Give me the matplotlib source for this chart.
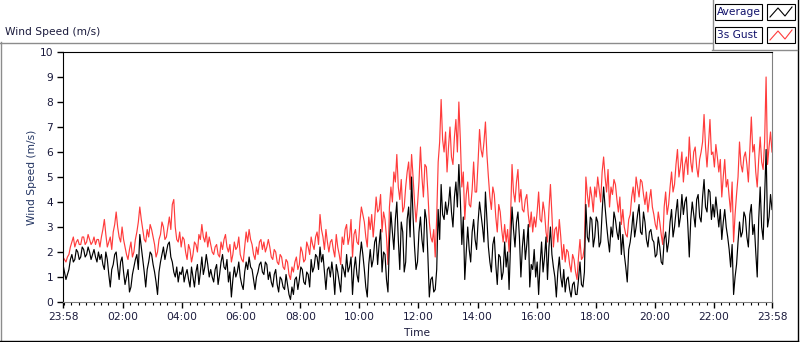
import numpy as np
import matplotlib.pyplot as plt
from matplotlib.lines import Line2D
from matplotlib.patches import Rectangle

# wind speed (m/s), one row per hour, 6 min steps starting 23:58 (last value at 23:58 next day)
avg = [1.5, 0.9, 1.3, 1.9, 1.7, 2.0, 1.8, 2.1, 1.9, 2.0,
       1.9, 1.8, 2.0, 1.9, 1.3, 1.7, 0.6, 1.5, 2.0, 0.9,
       1.8, 0.7, 1.3, 0.6, 1.4, 1.9, 2.7, 1.7, 0.6, 1.6,
       1.9, 1.2, 0.3, 1.6, 2.2, 2.0, 2.4, 1.6, 1.0, 0.8,
       1.1, 0.8, 1.3, 0.6, 1.0, 1.2, 0.7, 1.8, 1.4, 1.5,
       1.3, 0.8, 1.5, 1.1, 1.9, 1.3, 0.8, 0.2, 1.4, 1.2,
       1.0, 0.5, 1.6, 1.8, 1.3, 0.5, 1.2, 1.6, 1.1, 1.5,
       1.2, 0.6, 1.3, 0.4, 0.9, 0.5, 0.7, 0.1, 0.3, 1.0,
       0.9, 1.3, 0.7, 1.1, 1.7, 1.4, 1.8, 2.2, 1.9, 0.5,
       1.4, 1.6, 0.3, 1.2, 0.4, 1.3, 1.9, 1.4, 0.3, 1.8,
       0.8, 2.4, 1.3, 0.2, 2.1, 1.7, 2.6, 2.3, 1.2, 1.9,
       0.4, 3.6, 2.1, 4.0, 1.3, 2.8, 1.6, 3.8, 5.0, 2.2,
       1.6, 3.4, 2.0, 3.3, 0.2, 1.0, 0.5, 3.7, 4.7, 3.3,
       3.5, 4.6, 3.0, 4.8, 5.5, 2.3, 0.9, 3.0, 1.6, 3.3,
       2.1, 4.0, 3.0, 4.4, 2.2, 1.2, 2.6, 0.7, 1.8, 1.2,
       1.4, 0.5, 3.8, 2.2, 3.6, 1.0, 2.9, 2.3, 0.6, 1.3,
       1.0, 0.3, 2.4, 1.8, 0.9, 3.0, 1.4, 0.2, 1.8, 0.6,
       0.4, 1.0, 0.2, 0.8, 0.3, 1.6, 0.6, 3.9, 2.4, 3.3,
       2.6, 3.2, 2.4, 4.6, 3.1, 2.0, 2.6, 3.3, 2.5, 1.9,
       1.9, 0.8, 2.4, 3.6, 3.0, 3.9, 2.7, 3.2, 2.2, 2.9,
       2.4, 1.9, 2.2, 1.5, 2.8, 2.4, 3.7, 3.0, 4.1, 3.4,
       3.5, 4.2, 1.8, 4.0, 3.0, 4.3, 3.2, 4.9, 3.6, 4.4,
       3.9, 4.2, 3.0, 2.5, 3.7, 2.6, 1.4, 0.3, 1.5, 3.2,
       2.8, 3.4, 2.2, 3.9, 3.1, 1.0, 4.6, 2.5, 6.1, 3.4,
       3.7]
# readings in between (3 min after each value above)
avg_mid = [1.2, 1.1, 1.7, 1.6, 2.1, 1.7, 2.2, 1.8, 2.2, 1.7,
           2.1, 1.6, 1.7, 1.5, 2.0, 1.1, 1.3, 1.9, 1.4, 1.6,
           1.2, 1.0, 0.4, 1.1, 1.7, 1.3, 2.2, 1.2, 1.3, 2.0,
           1.5, 0.8, 1.2, 1.9, 1.7, 2.3, 1.8, 1.2, 1.4, 1.2,
           1.4, 1.1, 0.9, 1.4, 0.6, 1.5, 1.2, 1.1, 1.9, 1.0,
           1.0, 1.3, 0.7, 1.6, 1.4, 1.7, 1.2, 0.9, 1.0, 1.6,
           0.7, 1.2, 1.3, 1.4, 0.9, 1.0, 1.5, 1.2, 1.6, 0.9,
           0.8, 1.1, 0.7, 1.0, 0.6, 1.1, 0.3, 0.6, 0.9, 0.5,
           1.4, 0.8, 1.2, 0.6, 1.2, 1.9, 1.3, 1.6, 1.2, 1.3,
           1.0, 1.1, 1.5, 0.8, 1.5, 1.0, 1.2, 1.8, 1.3, 1.1,
           1.8, 1.9, 0.6, 1.5, 1.4, 2.4, 1.5, 2.9, 2.0, 0.9,
           2.4, 2.8, 3.3, 2.5, 3.2, 1.2, 3.3, 2.6, 3.4, 1.3,
           2.8, 2.5, 3.7, 1.9, 0.9, 0.4, 1.3, 2.5, 3.5, 4.0,
           3.9, 3.6, 4.2, 3.8, 4.1, 3.4, 2.0, 2.1, 2.8, 2.5,
           3.2, 3.5, 2.4, 3.3, 1.6, 2.3, 1.5, 1.9, 0.9, 2.4,
           2.0, 2.3, 2.9, 3.2, 2.6, 2.2, 1.7, 3.1, 1.5, 2.1,
           1.6, 1.5, 1.2, 2.6, 2.2, 1.9, 1.0, 1.2, 1.0, 1.3,
           0.9, 0.5, 0.7, 0.3, 0.9, 0.7, 1.2, 2.6, 3.4, 2.2,
           3.4, 2.2, 3.6, 3.8, 2.5, 3.0, 3.6, 2.8, 3.2, 2.7,
           1.4, 2.1, 2.9, 2.6, 3.5, 2.8, 3.6, 2.5, 2.8, 2.5,
           1.8, 2.6, 1.6, 2.5, 2.0, 3.2, 2.6, 3.6, 3.0, 4.3,
           4.0, 3.1, 3.3, 3.5, 4.1, 3.4, 4.2, 3.8, 4.5, 3.3,
           3.4, 3.6, 3.7, 3.2, 3.0, 2.1, 2.3, 1.0, 2.4, 2.6,
           3.6, 2.6, 3.5, 2.7, 2.0, 3.3, 3.0, 4.2, 3.0, 4.3]

gust = [1.8, 1.6, 1.9, 2.4, 2.2, 2.5, 2.3, 2.6, 2.4, 2.5,
        2.4, 2.3, 2.5, 2.6, 3.3, 2.2, 2.6, 2.8, 3.6, 2.6,
        3.0, 2.2, 1.7, 2.4, 2.0, 2.8, 3.8, 2.9, 2.4, 2.6,
        2.9, 2.3, 2.0, 2.7, 3.0, 2.6, 3.4, 3.9, 3.0, 2.4,
        2.2, 2.5, 1.7, 2.1, 1.9, 2.3, 2.7, 3.1, 2.4, 2.2,
        2.3, 1.9, 2.3, 1.8, 2.1, 2.7, 2.0, 1.6, 2.4, 2.2,
        1.9, 1.6, 2.8, 2.9, 2.3, 1.7, 1.9, 2.5, 2.4, 2.2,
        2.2, 1.7, 2.0, 1.5, 1.8, 1.3, 1.6, 0.9, 1.2, 1.8,
        1.5, 2.0, 1.7, 2.2, 2.6, 2.1, 2.8, 3.5, 2.6, 2.9,
        2.0, 2.5, 1.8, 2.2, 1.5, 2.3, 3.1, 2.6, 1.8, 2.9,
        2.3, 3.8, 3.2, 2.2, 2.9, 2.6, 4.2, 3.7, 2.8, 3.3,
        1.5, 4.6, 5.2, 5.9, 4.1, 3.6, 4.6, 5.6, 5.9, 4.0,
        3.9, 6.2, 4.2, 5.4, 3.2, 2.4, 1.8, 5.6, 8.1, 6.0,
        5.2, 7.0, 5.5, 7.3, 8.0, 4.6, 3.3, 4.8, 3.8, 5.6,
        4.4, 6.9, 5.8, 7.2, 5.0, 3.7, 4.3, 2.8, 3.6, 2.4,
        2.4, 2.0, 5.5, 4.0, 5.3, 4.5, 3.6, 4.3, 3.0, 2.8,
        3.0, 4.4, 3.2, 3.6, 2.4, 4.7, 2.2, 3.0, 3.3, 1.7,
        1.6, 2.0, 1.2, 1.7, 0.9, 2.5, 1.8, 5.0, 3.8, 4.2,
        4.6, 5.0, 4.0, 5.8, 4.4, 3.8, 4.3, 4.7, 3.6, 3.1,
        3.0, 2.6, 3.5, 4.6, 5.0, 4.2, 4.8, 3.9, 3.6, 4.5,
        3.5, 2.9, 3.2, 2.3, 4.4, 3.9, 5.2, 4.7, 6.1, 5.4,
        4.8, 5.8, 6.6, 5.2, 6.2, 5.0, 6.0, 7.5, 5.4, 7.3,
        6.0, 6.3, 5.2, 4.2, 5.7, 4.9, 3.6, 2.4, 4.3, 6.4,
        5.2, 6.0, 4.8, 7.4, 6.3, 4.6, 6.6, 5.3, 9.0, 6.2,
        6.0]
gust_mid = [1.7, 1.8, 2.2, 2.6, 2.4, 2.3, 2.6, 2.3, 2.7, 2.3,
            2.6, 2.5, 2.2, 2.9, 2.7, 2.4, 2.1, 3.1, 3.0, 2.4,
            2.5, 1.9, 2.1, 1.8, 2.5, 3.2, 3.3, 2.5, 2.9, 3.1,
            2.6, 1.8, 2.5, 3.2, 2.5, 3.0, 2.9, 4.1, 2.5, 2.8,
            2.6, 2.0, 2.3, 1.6, 2.4, 2.0, 2.5, 2.6, 2.8, 2.6,
            2.0, 2.2, 1.9, 2.4, 2.5, 2.2, 2.3, 1.9, 2.1, 2.6,
            1.7, 2.2, 2.4, 2.5, 1.9, 2.2, 2.4, 2.1, 2.0, 2.5,
            1.8, 2.1, 1.6, 1.9, 1.4, 1.7, 1.1, 1.4, 1.6, 1.3,
            2.2, 1.6, 2.4, 1.9, 2.3, 2.6, 2.3, 2.9, 2.1, 2.4,
            2.4, 2.1, 2.7, 1.9, 2.6, 2.9, 2.3, 3.3, 2.7, 2.4,
            3.2, 3.5, 2.6, 3.4, 3.5, 3.3, 3.6, 4.3, 3.6, 2.6,
            3.8, 4.0, 4.8, 4.6, 4.9, 3.8, 5.2, 4.5, 5.0, 3.2,
            4.8, 5.0, 5.5, 4.4, 2.6, 2.9, 3.4, 6.4, 6.5, 6.8,
            6.2, 5.8, 6.6, 6.0, 6.5, 5.2, 4.3, 3.9, 4.5, 4.4,
            5.6, 6.1, 6.4, 5.9, 4.2, 4.6, 3.4, 3.9, 2.9, 3.1,
            2.9, 3.4, 4.4, 4.8, 4.0, 3.7, 4.1, 3.5, 3.6, 3.4,
            3.6, 3.3, 4.0, 2.8, 3.7, 3.5, 2.9, 2.4, 2.6, 2.3,
            2.1, 1.5, 1.9, 1.2, 1.8, 1.7, 2.2, 4.3, 4.6, 3.6,
            4.2, 4.5, 5.2, 5.0, 5.3, 4.6, 4.9, 4.1, 4.2, 3.7,
            2.7, 3.3, 4.2, 4.0, 4.6, 4.9, 4.3, 4.4, 4.1, 3.8,
            3.1, 3.6, 2.7, 3.8, 3.5, 4.6, 4.4, 5.5, 5.0, 6.0,
            5.5, 5.1, 5.6, 6.0, 5.4, 5.7, 6.4, 6.2, 6.3, 5.9,
            5.4, 5.8, 5.7, 5.0, 4.6, 4.2, 4.8, 3.5, 5.0, 5.5,
            5.8, 5.5, 6.1, 6.0, 5.2, 5.7, 5.6, 6.4, 5.5, 6.8]

# x axis in minutes after 23:58
tick_min = [0, 122, 242, 362, 482, 602, 722, 842, 962, 1082, 1202, 1322, 1440]
tick_lab = ['23:58', '02:00', '04:00', '06:00', '08:00', '10:00', '12:00',
            '14:00', '16:00', '18:00', '20:00', '22:00', '23:58']

W, H = 800, 342
txt = '#1a1a3c'
plt.rcParams['font.family'] = ['DejaVu Sans']
plt.rcParams['font.size'] = 7.7

# merge the two readings of each series into one time line
n = len(avg) + len(avg_mid)
avg_all = np.empty(n)
avg_all[0::2] = avg
avg_all[1::2] = avg_mid
gust_all = np.empty(n)
gust_all[0::2] = gust
gust_all[1::2] = gust_mid
t = np.linspace(0, 1440, n)

fig = plt.figure(figsize=(W / 100, H / 100), dpi=100)

def fx(x):
    return x / W

def fy(y):
    return 1 - y / H

def fline(xs, ys, c, lw=1.0):
    fig.add_artist(Line2D([fx(x) for x in xs], [fy(y) for y in ys],
                          color=c, lw=lw, transform=fig.transFigure))

ax = fig.add_axes([63 / W, 40 / H, 709 / W, 250 / H])
ax.plot(t, gust_all, color='#ff3c3c', lw=0.85)
ax.plot(t, avg_all, color='black', lw=0.85)

ax.set_xlim(0, 1440)
ax.set_ylim(0, 10)
ax.set_yticks(range(0, 11))
ax.set_xticks(tick_min)
ax.set_xticklabels(tick_lab)
minor = [m for m in range(2, 1440, 15) if m not in tick_min]
ax.set_xticks(minor, minor=True)
ax.tick_params(axis='both', which='major', direction='out', length=4,
               width=1, colors='black', labelcolor=txt, pad=3)
ax.tick_params(axis='x', which='minor', direction='out', length=2.5, width=0.8)

ax.spines['top'].set_color('black')
ax.spines['left'].set_color('black')
ax.spines['right'].set_color('#808080')
ax.spines['bottom'].set_color('#808080')

ax.set_ylabel('Wind Speed (m/s)', color='#233563')
ax.yaxis.set_label_coords((37 - 63) / 709, 0.5)
ax.set_xlabel('Time', color=txt)
ax.xaxis.set_label_coords(0.5, -(328 - 302) / 250)

fig.text(fx(5), fy(32), 'Wind Speed (m/s)', color=txt, va='center', ha='left')

# outer panel frame
fline([0, 712], [42.5, 42.5], '#8c8c8c')
fline([0.5, 0.5], [42, 341], '#8c8c8c')
fline([0, 798], [340.5, 340.5], 'black')
fline([797.5, 797.5], [0, 341], 'black')
fline([712.5, 712.5], [0, 49], '#8c8c8c')
fline([712, 797], [49.5, 49.5], '#8c8c8c')

# legend
for name, col, y0 in [('Average', 'black', 4), ('3s Gust', '#ff3c3c', 27)]:
    fig.add_artist(Rectangle((fx(715), fy(y0 + 16)), 47 / W, 16 / H,
                             transform=fig.transFigure, fill=False,
                             ec='black', lw=0.8))
    fig.text(fx(717), fy(y0 + 8), name, color='#10106a', va='center', ha='left')
    fig.add_artist(Rectangle((fx(767), fy(y0 + 16)), 28 / W, 16 / H,
                             transform=fig.transFigure, fill=False,
                             ec='black', lw=0.8))
    zx = [770, 778, 785, 792]
    zy = [y0 + 13, y0 + 4, y0 + 12, y0 + 3]
    fline(zx, zy, col, lw=0.8)

fig.savefig('out.png', dpi=100)
